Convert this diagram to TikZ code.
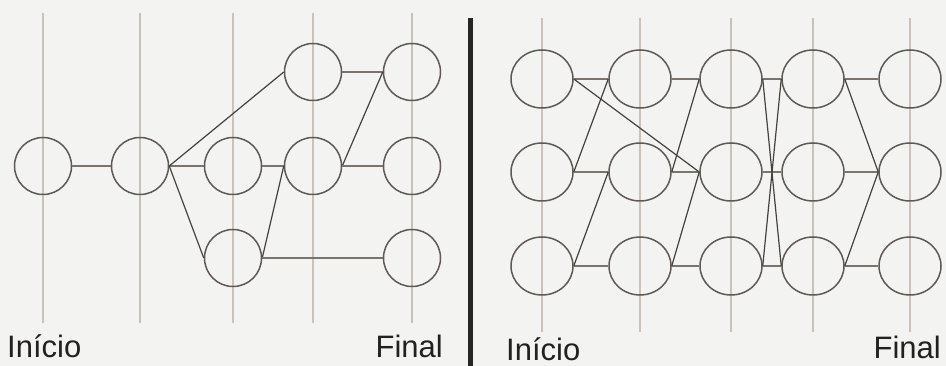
\documentclass[tikz,border=0pt]{standalone}
\usepackage{fontspec}
\setmainfont{Liberation Sans}
\usetikzlibrary{shapes.geometric}
\definecolor{bgc}{HTML}{F3F3F1}
\definecolor{vlc}{HTML}{C9C2BA}
\definecolor{circc}{HTML}{5E5955}
\definecolor{hcc}{HTML}{7A746E}
\definecolor{dcc}{HTML}{45413E}
\definecolor{txc}{HTML}{222120}
\tikzset{
  vline/.style={draw=vlc, line width=1.3pt},
  lnode/.style={circle, draw=circc, line width=1.5pt, minimum size=57pt, inner sep=0pt},
  rnode/.style={ellipse, draw=circc, line width=1.5pt, minimum width=62pt, minimum height=58pt, inner sep=0pt},
  hconn/.style={draw=hcc, line width=1.6pt},
  dconn/.style={draw=dcc, line width=1.2pt},
  lbl/.style={inner sep=0pt, text=txc},
  divider/.style={draw=black!85, line width=5pt}
}
\begin{document}
\begin{tikzpicture}[x=1pt, y=-1pt]
\useasboundingbox (0,0) rectangle (946,366);
\fill[bgc] (0,0) rectangle (946,366);

% ---------- left panel ----------
\foreach \x in {43,140,233,313,412} { \draw[vline] (\x,13) -- (\x,323); }
\node[lnode] (a1) at (43,166) {};
\node[lnode] (a2) at (140,166) {};
\node[lnode] (a3m) at (233,166) {};
\node[lnode] (a3b) at (233,258) {};
\node[lnode] (a4t) at (313,72) {};
\node[lnode] (a4m) at (313,166) {};
\node[lnode] (a5t) at (412,72) {};
\node[lnode] (a5m) at (412,166) {};
\node[lnode] (a5b) at (412,258) {};

\draw[hconn] (a1.east) -- (a2.west);
\draw[hconn] (a2.east) -- (a3m.west);
\draw[dconn] (a2.east) -- (a4t.west);
\draw[dconn] (a2.east) -- (a3b.west);
\draw[hconn] (a3m.east) -- (a4m.west);
\draw[dconn] (a3b.east) -- (a4m.west);
\draw[hconn] (a3b.east) -- (a5b.west);
\draw[hconn] (a4t.east) -- (a5t.west);
\draw[dconn] (a4m.east) -- (a5t.west);
\draw[hconn] (a4m.east) -- (a5m.west);

\node[lbl, anchor=base west, font=\fontsize{31}{31}\selectfont] (ini1) at (7,358) {Início};
\node[lbl, anchor=base east, font=\fontsize{31}{31}\selectfont] (fin1) at (443,357) {Final};

% ---------- divider ----------
\coordinate (dtop) at (470,18);
\coordinate (dbot) at (470,366);
\draw[divider] (dtop) -- (dbot);

% ---------- right panel ----------
\foreach \x in {542,640,731,813,910} { \draw[vline] (\x,18) -- (\x,332); }
\foreach \c/\x in {1/542,2/640,3/731,4/813,5/910} {
  \node[rnode] (t\c) at (\x,79) {};
  \node[rnode] (m\c) at (\x,172) {};
  \node[rnode] (b\c) at (\x,266) {};
}
% horizontal connectors
\draw[hconn] (t1.east) -- (t2.west);
\draw[hconn] (m1.east) -- (m2.west);
\draw[hconn] (b1.east) -- (b2.west);
\draw[hconn] (t2.east) -- (t3.west);
\draw[hconn] (m2.east) -- (m3.west);
\draw[hconn] (b2.east) -- (b3.west);
\draw[hconn] (t3.east) -- (t4.west);
\draw[hconn] (m3.east) -- (m4.west);
\draw[hconn] (b3.east) -- (b4.west);
\draw[hconn] (t4.east) -- (t5.west);
\draw[hconn] (m4.east) -- (m5.west);
\draw[hconn] (b4.east) -- (b5.west);
% diagonals
\draw[dconn] (t1.east) -- (m3.west);
\draw[dconn] (m1.east) -- (t2.west);
\draw[dconn] (b1.east) -- (m2.west);
\draw[dconn] (m2.east) -- (t3.west);
\draw[dconn] (b2.east) -- (m3.west);
\draw[dconn] (t3.east) -- (b4.west);
\draw[dconn] (b3.east) -- (t4.west);
\draw[dconn] (t4.east) -- (m5.west);
\draw[dconn] (b4.east) -- (m5.west);

\node[lbl, anchor=base west, font=\fontsize{31}{31}\selectfont] (ini2) at (506,360) {Início};
\node[lbl, anchor=base east, font=\fontsize{31}{31}\selectfont] (fin2) at (941,359) {Final};
\end{tikzpicture}
\end{document}
